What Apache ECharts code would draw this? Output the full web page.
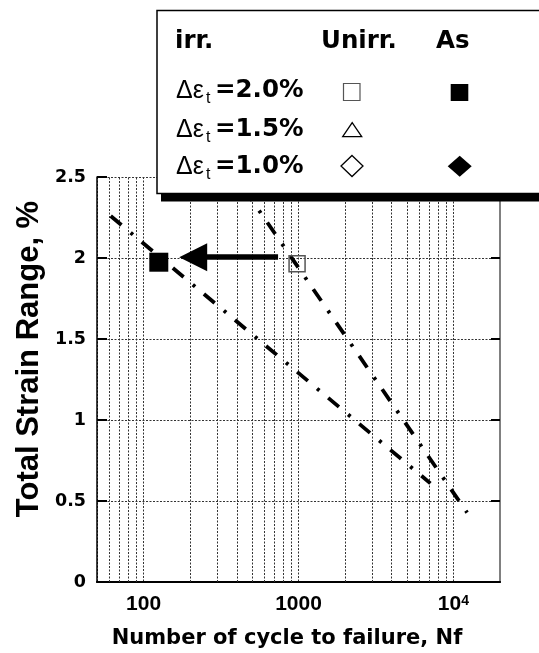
<!DOCTYPE html>
<html>
<head>
<meta charset="utf-8">
<script src="https://cdn.jsdelivr.net/npm/echarts@6/dist/echarts.min.js"></script>
<style>
  html, body { margin: 0; padding: 0; background: #fff; }
  #chart { width: 539px; height: 653px; }
</style>
</head>
<body>
<div id="chart"></div>
<script>
// fit lines: [cycles to failure, total strain range %]
var fitLineA = [[61.3, 2.259], [7106, 0.609]];
var fitLineB = [[447, 2.425], [12270, 0.428]];
// measured points at 2.0%
var unirrPoints = [[979, 1.965]];
var asPoints = [[125.3, 1.974]];
// arrow from unirr. to as
var arrowPath = [[738, 2.005], [209, 2.005]];
// x grid values between decades, and decade labels
var xMinorGrid = [60, 70, 80, 90, 200, 300, 400, 500, 600, 700, 800, 900,
  2000, 3000, 4000, 5000, 6000, 7000, 8000, 9000];
var xTickValues = [100, 1000, 10000];
var xTickLabels = ['100', '1000', '{b|10}{sup|4}'];
// legend rows
var legendRows = ['=2.0%', '=1.5%', '=1.0%'];

var dashDot = [14, 12, 3, 11.5];
var gridDot = [2, 1.5];

var legendFont = 'bold 24.5px "DejaVu Sans"';
var rowY = [91, 130, 167];

var graphic = [
  { type: 'rect', z: 100, shape: { x: 161, y: 18, width: 400, height: 183.5 }, style: { fill: '#000' } },
  { type: 'rect', z: 101, shape: { x: 157, y: 10.5, width: 400, height: 183 },
    style: { fill: '#fff', stroke: '#000', lineWidth: 1.5 } },
  { type: 'text', z: 102, x: 175, y: 42, style: { text: 'irr.', font: legendFont, fill: '#000', verticalAlign: 'middle' } },
  { type: 'text', z: 102, x: 321, y: 42, style: { text: 'Unirr.', font: legendFont, fill: '#000', verticalAlign: 'middle' } },
  { type: 'text', z: 102, x: 436, y: 42, style: { text: 'As', font: legendFont, fill: '#000', verticalAlign: 'middle' } },
  // symbols
  { type: 'rect', z: 102, shape: { x: 343.5, y: 83.5, width: 16.5, height: 17 },
    style: { fill: '#fff', stroke: '#555', lineWidth: 1.2 } },
  { type: 'rect', z: 102, shape: { x: 450.7, y: 84, width: 17.6, height: 17 }, style: { fill: '#000' } },
  { type: 'polygon', z: 102, shape: { points: [[352.2, 122.7], [342.7, 136.7], [361.7, 136.7]] },
    style: { fill: '#fff', stroke: '#000', lineWidth: 1.3 } },
  { type: 'polygon', z: 102, shape: { points: [[352, 155.5], [363, 166], [352, 176.5], [341, 166]] },
    style: { fill: '#fff', stroke: '#000', lineWidth: 1.3 } },
  { type: 'polygon', z: 102, shape: { points: [[459.7, 155.7], [471.7, 166.2], [459.7, 176.7], [447.7, 166.2]] },
    style: { fill: '#000' } }
];
legendRows.forEach(function (t, i) {
  var y = rowY[i];
  graphic.push({ type: 'text', z: 102, x: 176, y: y, style: { text: 'Δε', font: '25px "Liberation Sans"', fill: '#000', verticalAlign: 'middle' } });
  graphic.push({ type: 'text', z: 102, x: 206, y: y + 8, style: { text: 't', font: '16px "Liberation Sans"', fill: '#000', verticalAlign: 'middle' } });
  graphic.push({ type: 'text', z: 102, x: 215, y: y, style: { text: t, font: legendFont, fill: '#000', verticalAlign: 'middle' } });
});
// axis titles
graphic.push({ type: 'text', z: 50, x: 287, y: 639, style: {
  text: 'Number of cycle to failure, Nf', font: 'bold 21px "DejaVu Sans"', fill: '#000', align: 'center', verticalAlign: 'middle' } });
graphic.push({ type: 'text', z: 50, x: 29, y: 359, rotation: Math.PI / 2, style: {
  text: 'Total Strain Range, %', font: 'bold 31px "Liberation Sans"', fill: '#000', align: 'center', verticalAlign: 'middle' } });

var option = {
  animation: false,
  backgroundColor: '#fff',
  grid: { left: 97, right: 39, top: 177, bottom: 71 },
  xAxis: [
    {
      type: 'log', logBase: 10, min: 50, max: 20000, position: 'bottom',
      axisLine: { lineStyle: { color: '#000', width: 2 } },
      axisTick: { show: false },
      axisLabel: {
        margin: 12, color: '#000', fontFamily: 'Liberation Sans', fontWeight: 'bold', fontSize: 21,
        formatter: function (v) {
          for (var i = 0; i < xTickValues.length; i++) {
            if (Math.abs(v / xTickValues[i] - 1) < 1e-6) return xTickLabels[i];
          }
          return '';
        },
        rich: {
          b: { fontFamily: 'Liberation Sans', fontWeight: 'bold', fontSize: 21, color: '#000', lineHeight: 21 },
          sup: { fontFamily: 'Liberation Sans', fontWeight: 'bold', fontSize: 14, color: '#000', lineHeight: 14, verticalAlign: 'top' }
        }
      },
      splitLine: { show: true, lineStyle: { color: '#333', width: 1, type: gridDot } }
    },
    {
      type: 'log', logBase: 10, min: 50, max: 20000, position: 'top',
      axisLine: { lineStyle: { color: '#000', width: 1.5 } },
      axisTick: { show: false }, axisLabel: { show: false }, splitLine: { show: false }
    }
  ],
  yAxis: [
    {
      type: 'value', min: 0, max: 2.5, interval: 0.5, position: 'left',
      axisLine: { show: true, lineStyle: { color: '#000', width: 1.5 } },
      axisTick: { show: true, inside: true, length: 10, lineStyle: { color: '#000', width: 2 } },
      axisLabel: { margin: 11, color: '#000', fontFamily: 'DejaVu Sans', fontWeight: 'bold', fontSize: 17.5 },
      splitLine: { show: true, lineStyle: { color: '#333', width: 1, type: gridDot } }
    },
    {
      type: 'value', min: 0, max: 2.5, interval: 0.5, position: 'right',
      axisLine: { show: true, lineStyle: { color: '#808080', width: 2 } },
      axisTick: { show: true, inside: true, length: 9, lineStyle: { color: '#000', width: 2 } },
      axisLabel: { show: false }, splitLine: { show: false }
    }
  ],
  series: [
    {
      name: 'minorGrid', type: 'line', data: [], silent: true,
      markLine: {
        silent: true, symbol: 'none', z: 1, label: { show: false },
        lineStyle: { color: '#333', width: 1, type: gridDot },
        data: xMinorGrid.map(function (v) { return { xAxis: v }; })
      }
    },
    {
      name: 'fitA', type: 'line', data: fitLineA, symbol: 'none', silent: true, z: 3,
      lineStyle: { color: '#000', width: 3.8, type: dashDot, cap: 'butt' }
    },
    {
      name: 'fitB', type: 'line', data: fitLineB, symbol: 'none', silent: true, z: 3,
      lineStyle: { color: '#000', width: 3.8, type: dashDot, cap: 'butt' }
    },
    {
      name: 'Unirr.', type: 'scatter', data: unirrPoints, symbol: 'rect', symbolSize: 16, z: 4,
      itemStyle: { color: 'rgba(0,0,0,0)', borderColor: '#555', borderWidth: 1.5, opacity: 1 }
    },
    {
      name: 'As', type: 'scatter', data: asPoints, symbol: 'rect', symbolSize: 19, z: 4,
      itemStyle: { color: '#000', opacity: 1 }
    },
    {
      name: 'arrow', type: 'line', data: [], silent: true,
      markLine: {
        silent: true, symbol: ['none', 'triangle'], symbolSize: [28, 28], z: 5,
        label: { show: false },
        lineStyle: { color: '#000', width: 5.5, type: 'solid' },
        itemStyle: { color: '#000' },
        data: [[{ coord: arrowPath[0] }, { coord: arrowPath[1] }]]
      }
    }
  ],
  graphic: graphic
};

var myChart = echarts.init(document.getElementById('chart'));
myChart.setOption(option);
</script>
</body>
</html>
